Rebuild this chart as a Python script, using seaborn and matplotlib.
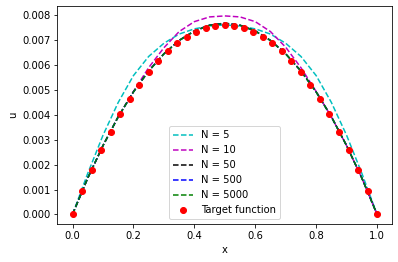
import matplotlib
matplotlib.use("Agg")
import matplotlib.pyplot as plt
import seaborn as sns

# grid for approximation curves
x_line = [0.00, 0.05, 0.10, 0.15, 0.20, 0.25, 0.30, 0.35, 0.40, 0.45, 0.50,
          0.55, 0.60, 0.65, 0.70, 0.75, 0.80, 0.85, 0.90, 0.95, 1.00]

u_n5 = [0.00000, 0.00165, 0.00318, 0.00450, 0.00558, 0.00635, 0.00688, 0.00725,
        0.00746, 0.00757, 0.00762, 0.00757, 0.00746, 0.00725, 0.00688, 0.00635,
        0.00558, 0.00450, 0.00318, 0.00165, 0.00000]
u_n10 = [0.00000, 0.00146, 0.00276, 0.00392, 0.00494, 0.00590, 0.00670, 0.00735,
         0.00775, 0.00794, 0.00798, 0.00794, 0.00775, 0.00735, 0.00672, 0.00590,
         0.00494, 0.00392, 0.00276, 0.00146, 0.00000]
u_n50 = [0.00000, 0.00146, 0.00277, 0.00393, 0.00493, 0.00577, 0.00646, 0.00700,
         0.00738, 0.00761, 0.00769, 0.00761, 0.00738, 0.00700, 0.00646, 0.00577,
         0.00493, 0.00393, 0.00277, 0.00146, 0.00000]
u_n500 = [0.00000, 0.00146, 0.00276, 0.00392, 0.00492, 0.00576, 0.00645, 0.00699,
          0.00737, 0.00760, 0.00768, 0.00760, 0.00737, 0.00699, 0.00645, 0.00576,
          0.00492, 0.00392, 0.00276, 0.00146, 0.00000]
u_n5000 = [0.00000, 0.00146, 0.00276, 0.00392, 0.00492, 0.00576, 0.00645, 0.00699,
           0.00737, 0.00760, 0.00768, 0.00760, 0.00737, 0.00699, 0.00645, 0.00576,
           0.00492, 0.00392, 0.00276, 0.00146, 0.00000]

# target function samples
x_target = [0.00000, 0.03125, 0.06250, 0.09375, 0.12500, 0.15625, 0.18750, 0.21875,
            0.25000, 0.28125, 0.31250, 0.34375, 0.37500, 0.40625, 0.43750, 0.46875,
            0.50000, 0.53125, 0.56250, 0.59375, 0.62500, 0.65625, 0.68750, 0.71875,
            0.75000, 0.78125, 0.81250, 0.84375, 0.87500, 0.90625, 0.93750, 0.96875,
            1.00000]
u_target = [0.00000, 0.00092, 0.00179, 0.00259, 0.00333, 0.00402, 0.00464, 0.00521,
            0.00572, 0.00616, 0.00655, 0.00688, 0.00714, 0.00735, 0.00750, 0.00759,
            0.00762, 0.00759, 0.00750, 0.00735, 0.00714, 0.00688, 0.00655, 0.00616,
            0.00572, 0.00521, 0.00464, 0.00402, 0.00333, 0.00259, 0.00179, 0.00092,
            0.00000]

labels = ["N = 5", "N = 10", "N = 50", "N = 500", "N = 5000"]
colors = ["c", "m", "k", "b", "g"]
series = [u_n5, u_n10, u_n50, u_n500, u_n5000]

fig = plt.figure(figsize=(398 / 72, 262 / 72), dpi=72)
ax = fig.add_axes([57.3 / 398, 1 - 224.3 / 262, (392.3 - 57.3) / 398, (224.3 - 6) / 262])

for ys, lab, col in zip(series, labels, colors):
    sns.lineplot(x=x_line, y=ys, color=col, linestyle="--", linewidth=1.5,
                 label=lab, ax=ax, estimator=None, sort=False)

sns.lineplot(x=x_target, y=u_target, color="r", marker="o", linestyle="none",
             markersize=6, markeredgecolor="r", markeredgewidth=1,
             label="Target function", ax=ax, estimator=None, sort=False)

ax.set_xlabel("x")
ax.set_ylabel("u")
ax.legend(loc="lower center")

fig.savefig("out.png", dpi=72)
